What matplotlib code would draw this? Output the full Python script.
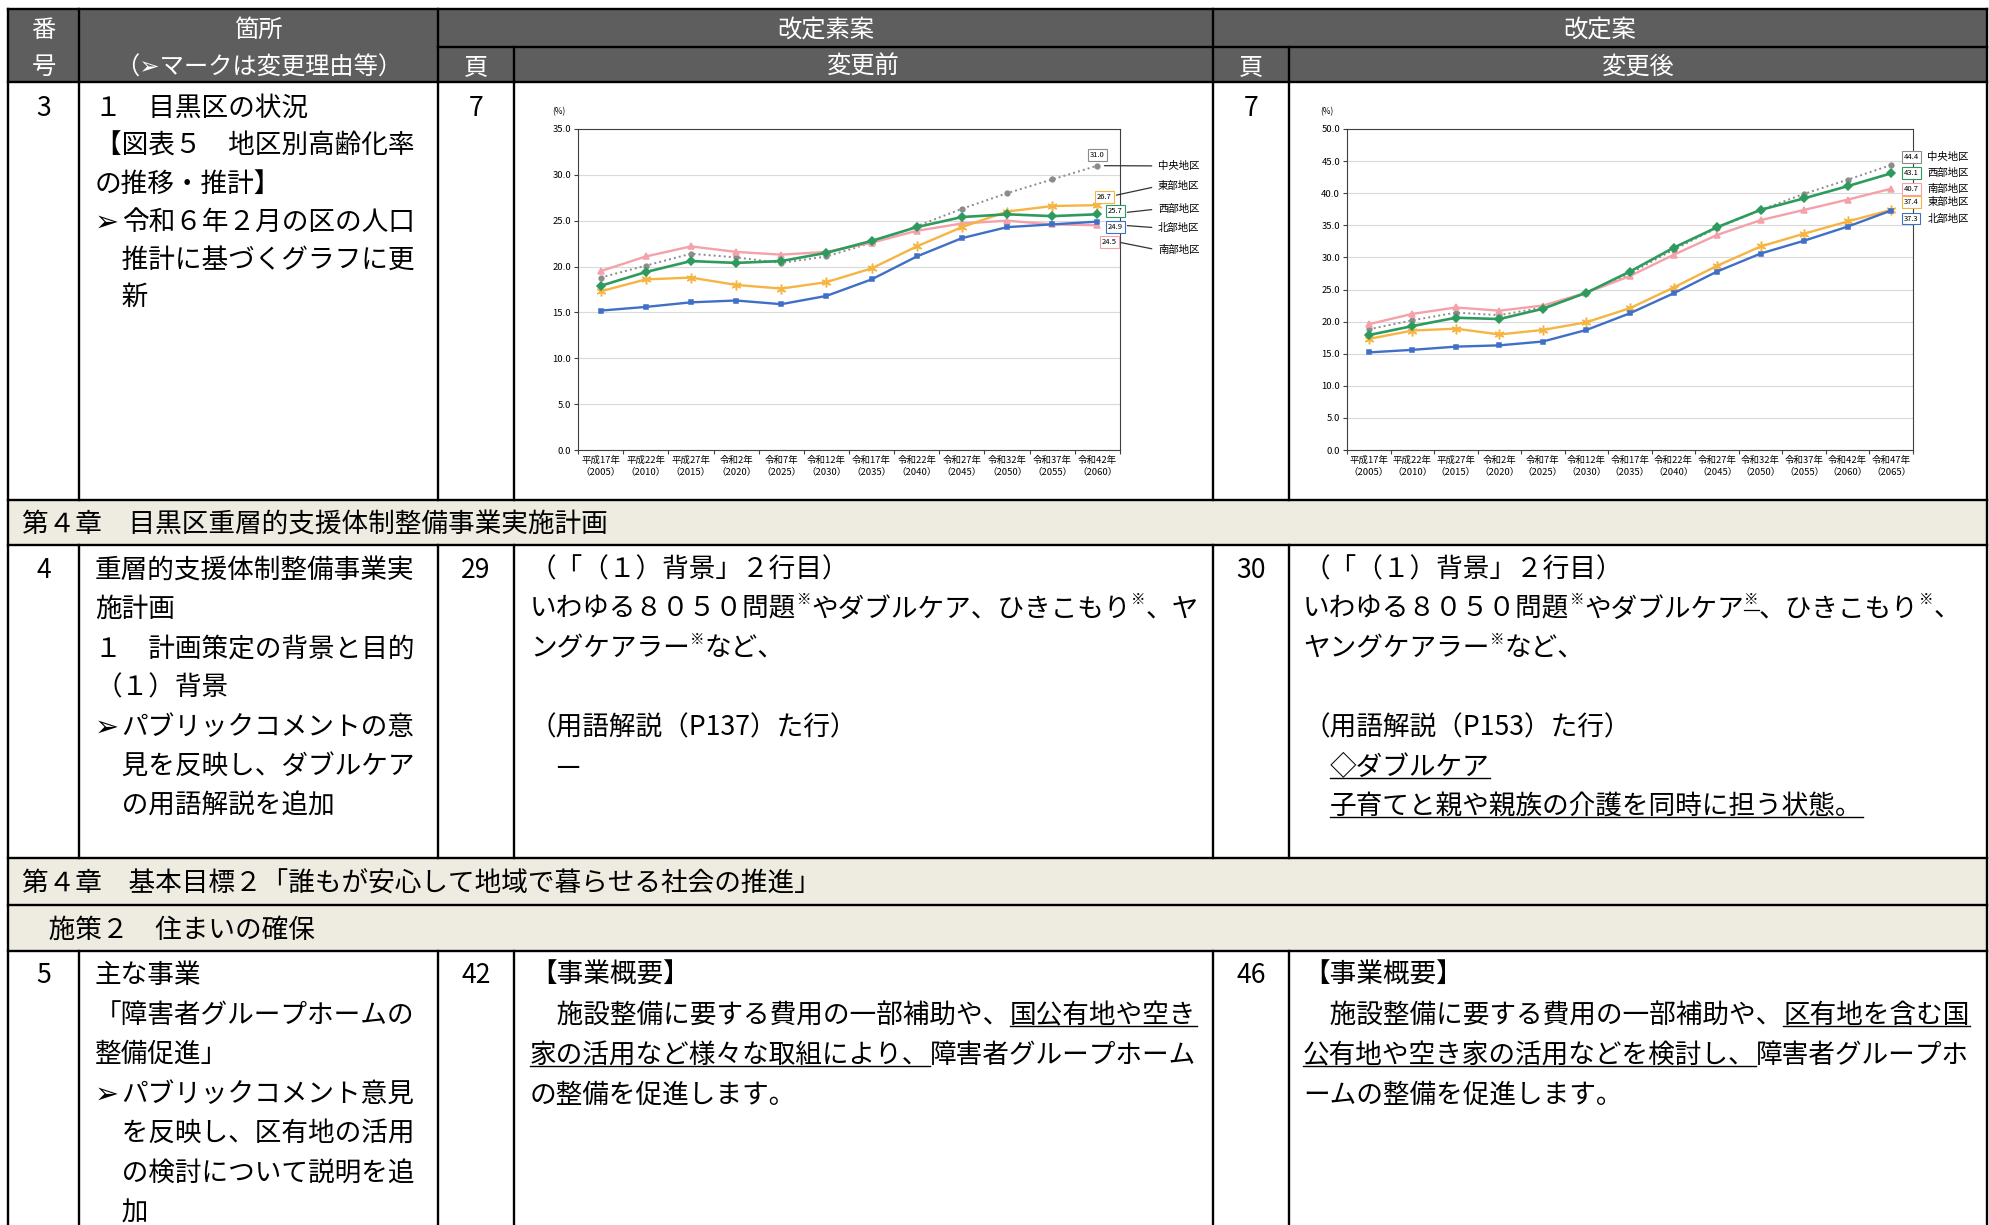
import unicodedata
import numpy as np
import matplotlib
matplotlib.use('Agg')
import matplotlib.pyplot as plt
from matplotlib.patches import Rectangle
from matplotlib.transforms import offset_copy

plt.rcParams['font.family'] = ['Noto Sans CJK JP', 'DejaVu Sans']

# ---- chart data (高齢化率 %) ----
years_old = ['平成17年\n（2005）', '平成22年\n（2010）', '平成27年\n（2015）', '令和2年\n（2020）',
             '令和7年\n（2025）', '令和12年\n（2030）', '令和17年\n（2035）', '令和22年\n（2040）',
             '令和27年\n（2045）', '令和32年\n（2050）', '令和37年\n（2055）', '令和42年\n（2060）']
years_new = years_old + ['令和47年\n（2065）']

chuo_old = [18.8, 20.1, 21.4, 21.0, 20.4, 21.1, 22.6, 24.4, 26.3, 28.0, 29.5, 31.0]
higashi_old = [17.3, 18.6, 18.8, 18.0, 17.6, 18.3, 19.8, 22.2, 24.3, 26.0, 26.6, 26.7]
nishi_old = [17.9, 19.4, 20.6, 20.4, 20.6, 21.5, 22.8, 24.3, 25.4, 25.7, 25.5, 25.7]
kita_old = [15.2, 15.6, 16.1, 16.3, 15.9, 16.8, 18.6, 21.1, 23.1, 24.3, 24.6, 24.9]
minami_old = [19.5, 21.1, 22.2, 21.6, 21.3, 21.6, 22.6, 23.9, 24.7, 25.0, 24.6, 24.5]

chuo_new = [18.8, 20.2, 21.4, 21.0, 22.2, 24.6, 27.5, 31.2, 34.6, 37.4, 39.9, 42.1, 44.4]
higashi_new = [17.3, 18.6, 18.9, 18.0, 18.7, 19.9, 22.1, 25.3, 28.7, 31.7, 33.7, 35.6, 37.4]
nishi_new = [17.9, 19.3, 20.6, 20.4, 22.0, 24.5, 27.8, 31.5, 34.7, 37.4, 39.2, 41.1, 43.1]
kita_new = [15.2, 15.6, 16.1, 16.3, 16.9, 18.7, 21.3, 24.4, 27.8, 30.6, 32.6, 34.8, 37.3]
minami_new = [19.6, 21.2, 22.2, 21.7, 22.5, 24.5, 27.1, 30.4, 33.5, 35.8, 37.4, 39.0, 40.7]

series_old = {'中央地区': chuo_old, '東部地区': higashi_old, '西部地区': nishi_old,
              '北部地区': kita_old, '南部地区': minami_old}
series_new = {'中央地区': chuo_new, '東部地区': higashi_new, '西部地区': nishi_new,
              '北部地区': kita_new, '南部地区': minami_new}

# ---- table text ----
head_top = ['番', '箇所', '改定素案', '改定案']
head_bot = ['号', '（➢マークは変更理由等）', '頁', '変更前', '頁', '変更後']
row_no = ['3', '4', '5']
page_before = ['7', '29', '42']
page_after = ['7', '30', '46']
sections = ['第４章　目黒区重層的支援体制整備事業実施計画',
            '第４章　基本目標２「誰もが安心して地域で暮らせる社会の推進」',
            '　施策２　住まいの確保']

place3 = ['１　目黒区の状況', '【図表５　地区別高齢化率', 'の推移・推計】',
          '➢令和６年２月の区の人口', '　推計に基づくグラフに更', '　新']
place4 = ['重層的支援体制整備事業実', '施計画', '１　計画策定の背景と目的', '（１）背景',
          '➢パブリックコメントの意', '　見を反映し、ダブルケア', '　の用語解説を追加']
place5 = ['主な事業', '「障害者グループホームの', '整備促進」', '➢パブリックコメント意見',
          '　を反映し、区有地の活用', '　の検討について説明を追', '　加']

before4 = [[('（「（１）背景」２行目）', 'n')],
           [('いわゆる８０５０問題', 'n'), ('※', 'sup'), ('やダブルケア、ひきこもり', 'n'),
            ('※', 'sup'), ('、ヤ', 'n')],
           [('ングケアラー', 'n'), ('※', 'sup'), ('など、', 'n')],
           [],
           [('（用語解説（P137）た行）', 'n')],
           [('　—', 'n')]]
after4 = [[('（「（１）背景」２行目）', 'n')],
          [('いわゆる８０５０問題', 'n'), ('※', 'sup'), ('やダブルケア', 'n'), ('※', 'supul'),
           ('、ひきこもり', 'n'), ('※', 'sup'), ('、', 'n')],
          [('ヤングケアラー', 'n'), ('※', 'sup'), ('など、', 'n')],
          [],
          [('（用語解説（P153）た行）', 'n')],
          [('　', 'n'), ('◇ダブルケア', 'ul')],
          [('　', 'n'), ('子育てと親や親族の介護を同時に担う状態。', 'ul')]]
before5 = [[('【事業概要】', 'n')],
           [('　施設整備に要する費用の一部補助や、', 'n'), ('国公有地や空き', 'ul')],
           [('家の活用など様々な取組により、', 'ul'), ('障害者グループホーム', 'n')],
           [('の整備を促進します。', 'n')]]
after5 = [[('【事業概要】', 'n')],
          [('　施設整備に要する費用の一部補助や、', 'n'), ('区有地を含む国', 'ul')],
          [('公有地や空き家の活用などを検討し、', 'ul'), ('障害者グループホ', 'n')],
          [('ームの整備を促進します。', 'n')]]

# ---- layout (pixels) ----
W, H = 1990, 1225
cols = [8, 79, 438, 514, 1213, 1289, 1987]
BODY = 19.2
HEAD = 17.5
HEAD_BG = '#5E5E5E'
SEC_BG = '#EEEBE0'

fig = plt.figure(figsize=(W / 100, H / 100), dpi=100)
ax = fig.add_axes([0, 0, 1, 1])
ax.set_xlim(0, W)
ax.set_ylim(H, 0)
ax.axis('off')


def em_px(size):
    return size * 100 / 72


def char_w(c, em):
    if c == '➢' or unicodedata.east_asian_width(c) in ('F', 'W', 'A'):
        return em
    return 0.55 * em


def put(x, yc, s, size=BODY, color='k', ha='left'):
    em = em_px(size)
    ax.text(x, yc + 0.38 * em, s, fontsize=size, va='baseline', ha=ha, color=color)


def put_runs(x, yc, runs, size=BODY):
    em = em_px(size)
    for s, kind in runs:
        if kind.startswith('sup'):
            sz = size * 0.55
            put(x, yc - 8, s, size=sz)
            w = sum(char_w(c, em_px(sz)) for c in s)
            if kind == 'supul':
                ax.plot([x, x + w], [yc + 3, yc + 3], color='k', lw=0.9)
        else:
            if s.startswith('➢'):
                put(x, yc, '➢', size=size * 1.08)
                put(x + em, yc, s[1:])
            elif s.strip():
                put(x, yc, s)
            w = sum(char_w(c, em) for c in s)
            if kind == 'ul':
                ax.plot([x, x + w], [yc + 13, yc + 13], color='k', lw=1.0)
        x += w


def put_lines(x, y0, step, lines):
    for i, ln in enumerate(lines):
        if isinstance(ln, str):
            ln = [(ln, 'n')]
        put_runs(x, y0 + i * step, ln)


# backgrounds
ax.add_patch(Rectangle((cols[0], 9), cols[-1] - cols[0], 73, fc=HEAD_BG, ec='none'))
ax.add_patch(Rectangle((cols[0], 500), cols[-1] - cols[0], 45, fc=SEC_BG, ec='none'))
ax.add_patch(Rectangle((cols[0], 858), cols[-1] - cols[0], 93, fc=SEC_BG, ec='none'))

# grid lines
LW = 1.7
def hline(y, x0=cols[0], x1=cols[-1]):
    ax.plot([x0, x1], [y, y], color='k', lw=LW, solid_capstyle='projecting')
def vline(x, y0, y1):
    ax.plot([x, x], [y0, y1], color='k', lw=LW, solid_capstyle='projecting')

for y in [9, 82, 500, 545, 858, 905, 951]:
    hline(y)
hline(47, cols[2], cols[-1])
vline(cols[0], 9, H)
vline(cols[-1], 9, H)
for c in [cols[1], cols[2], cols[4]]:
    vline(c, 9, 82)
for c in [cols[3], cols[5]]:
    vline(c, 47, 82)
for c in cols[1:-1]:
    vline(c, 82, 500)
    vline(c, 545, 858)
    vline(c, 951, H)

# header text
cx = [(cols[i] + cols[i + 1]) / 2 for i in range(6)]
put(cx[0], 28, head_top[0], size=HEAD, color='white', ha='center')
put(cx[1], 28, head_top[1], size=HEAD, color='white', ha='center')
put((cols[2] + cols[4]) / 2, 28, head_top[2], size=HEAD, color='white', ha='center')
put((cols[4] + cols[6]) / 2, 28, head_top[3], size=HEAD, color='white', ha='center')
for i, s in enumerate(head_bot):
    put(cx[i], 65, s, size=HEAD, color='white', ha='center')

# section rows
put(22, 522, sections[0])
put(22, 881, sections[1])
put(22, 928, sections[2])

# numbered rows
row_top = [106, 568, 973]
for i in range(3):
    put(cx[0], row_top[i], row_no[i], ha='center')
    put(cx[2], row_top[i], page_before[i], ha='center')
    put(cx[4], row_top[i], page_after[i], ha='center')

put_lines(95, 106, 37.8, place3)
put_lines(95, 568, 39.2, place4)
put_lines(95, 973, 39.5, place5)
put_lines(530, 567, 39.5, before4)
put_lines(1303, 567, 39.5, after4)
put_lines(530, 973, 40, before5)
put_lines(1303, 973, 40, after5)

# ---- charts ----
styles = {
    '中央地区': dict(c='#8C8C8C', ls=(0, (1, 1.6)), m='o', ms=3.4, lw=1.4, z=2),
    '南部地区': dict(c='#F4A1A9', ls='-', m='^', ms=4.2, lw=1.7, z=3),
    '東部地区': dict(c='#F6B443', ls='-', m=(6, 2, 0), ms=7, lw=1.7, z=4),
    '西部地区': dict(c='#2E9B5E', ls='-', m='D', ms=3.8, lw=1.9, z=5),
    '北部地区': dict(c='#3F6FC6', ls='-', m='s', ms=3.4, lw=1.7, z=6),
}

# callout layout: value-box offsets from last point (px, up positive)
old_boxes = {'中央地区': (0, 11), '東部地区': (7, 8), '西部地区': (18, 3),
             '北部地区': (18, -5), '南部地区': (12, -17)}
old_leads = {'中央地区': (7, 0), '東部地区': (19, 10), '西部地区': (30, 2),
             '北部地区': (30, -4), '南部地区': (22, -17)}
old_label_y = {'中央地区': 0.885, '東部地区': 0.822, '西部地区': 0.751,
               '北部地区': 0.692, '南部地区': 0.623}
new_boxes = {'中央地区': (20, 8), '西部地区': (20, 0), '南部地区': (20, 0),
             '東部地区': (20, 8), '北部地区': (20, -8)}


def chart(rect, labels, series, ymax, boxes, leads=None, label_y=None):
    cax = fig.add_axes([rect[0] / W, 1 - (rect[1] + rect[3]) / H, rect[2] / W, rect[3] / H])
    cax.set_facecolor('white')
    xs = np.arange(len(labels))
    for name, st in styles.items():
        cax.plot(xs, series[name], color=st['c'], ls=st['ls'], lw=st['lw'], marker=st['m'],
                 ms=st['ms'], mfc=st['c'], mec=st['c'], mew=1.1, zorder=st['z'], clip_on=False)
    cax.set_xlim(-0.5, len(labels) - 0.5)
    cax.set_ylim(0, ymax)
    cax.set_yticks(np.arange(0, ymax + 0.1, 5))
    cax.yaxis.set_major_formatter('{x:.1f}')
    cax.grid(axis='y', color='#D9D9D9', lw=0.8)
    cax.set_axisbelow(True)
    cax.set_xticks(xs)
    cax.set_xticklabels(labels, fontsize=6.8, linespacing=1.3)
    cax.set_xticks(np.arange(-0.5, len(labels)), minor=True)
    cax.tick_params(axis='x', which='major', length=0, pad=4)
    cax.tick_params(axis='x', which='minor', length=3, width=0.8, color='#404040')
    cax.tick_params(axis='y', length=3, width=0.8, color='#404040', labelsize=6.8, pad=2)
    for sp in cax.spines.values():
        sp.set_color('#404040')
        sp.set_linewidth(0.8)
    cax.text(-0.035, 1.04, '(%)', transform=cax.transAxes, fontsize=6, ha='center', va='bottom')

    last = len(labels) - 1
    for name, (bx, by) in boxes.items():
        v = series[name][-1]
        cax.annotate(f'{v:.1f}', xy=(last, v), xytext=(bx, by), textcoords='offset pixels',
                     ha='center', va='center', fontsize=5.5, zorder=8, annotation_clip=False,
                     bbox=dict(boxstyle='square,pad=0.25', fc='white', ec=styles[name]['c'], lw=0.8))
        if leads is None:
            cax.annotate(name, xy=(last, v), xytext=(bx + 16, by), textcoords='offset pixels',
                         ha='left', va='center', fontsize=7.5, annotation_clip=False)
    if leads is not None:
        for name, (lx, ly) in leads.items():
            v = series[name][-1]
            cax.annotate(name, xy=(last, v),
                         xycoords=offset_copy(cax.transData, fig=fig, x=lx, y=ly, units='dots'),
                         xytext=(1.07, label_y[name]), textcoords='axes fraction',
                         ha='left', va='center', fontsize=7.5, annotation_clip=False,
                         arrowprops=dict(arrowstyle='-', color='#333333', lw=0.9,
                                         shrinkA=2.5, shrinkB=0, relpos=(0, 0.5)))
    return cax


chart((578, 129, 542, 321), years_old, series_old, 35, old_boxes, old_leads, old_label_y)
chart((1347, 129, 566, 321), years_new, series_new, 50, new_boxes)

fig.savefig('out.png', dpi=100)
